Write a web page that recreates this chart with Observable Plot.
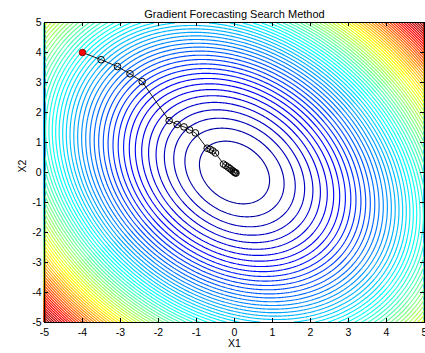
<!DOCTYPE html>
<html>
<head>
<meta charset="utf-8">
<script src="https://cdn.jsdelivr.net/npm/d3@7"></script>
<script src="https://cdn.jsdelivr.net/npm/@observablehq/plot@0.6"></script>
<style>
  html, body { margin: 0; padding: 0; background: #fff; }
</style>
</head>
<body>
<div id="chart"></div>
<script>
// Quadratic objective f(x1, x2) = a*x1^2 + b*x1*x2 + c*x2^2
const coefA = 1.0;
const coefB = 0.45;
const coefC = 0.78;
// contour levels (equally spaced, as in MATLAB contour with N levels)
const levelCount = 69;
// search path
const pathX1 = [-4, -3.51, -3.08, -2.75, -2.43, -1.72, -1.51, -1.33, -1.18, -1.03, -0.72, -0.64, -0.57, -0.50, -0.29, -0.23, -0.17, -0.12, -0.07, -0.03, 0.00, 0.02, 0.04];
const pathX2 = [4, 3.76, 3.53, 3.29, 3.03, 1.73, 1.60, 1.52, 1.42, 1.32, 0.81, 0.77, 0.72, 0.65, 0.28, 0.23, 0.18, 0.13, 0.08, 0.04, 0.01, -0.01, -0.02];
const xTicks = [-5, -4, -3, -2, -1, 0, 1, 2, 3, 4, 5];
const yTicks = [-5, -4, -3, -2, -1, 0, 1, 2, 3, 4, 5];
const titleText = "Gradient Forecasting Search Method";
const xLabel = "X1";
const yLabel = "X2";

const f = (x, y) => coefA * x * x + coefB * x * y + coefC * y * y;
const zMax = f(5, 5);
const step = zMax / (levelCount + 1);
const thresholds = d3.range(1, levelCount + 1).map(k => k * step);
const path = pathX1.map((x, i) => ({x1: x, x2: pathX2[i]}));

const W = 425, H = 353;
const mL = 44, mR = 1, mT = 22, mB = 31;
const innerW = W - mL - mR, innerH = H - mT - mB;
const jetStops = [0, 0.125, 0.375, 0.625, 0.875, 1];
const jetColors = ["#000090", "#0000ff", "#00ffff", "#ffff00", "#ff0000", "#800000"];

const chart = Plot.plot({
  width: W, height: H,
  marginLeft: mL, marginRight: mR, marginTop: mT, marginBottom: mB,
  style: {fontFamily: "'Liberation Sans', Arial, sans-serif", fontSize: "10.5px", background: "#fff"},
  x: {domain: [-5, 5]},
  y: {domain: [-5, 5]},
  color: {type: "linear", domain: jetStops.map(t => t * zMax), range: jetColors, interpolate: "rgb"},
  marks: [
    Plot.contour({x1: -5, y1: -5, x2: 5, y2: 5, stroke: f, thresholds, strokeWidth: 1.15, pixelSize: 1}),
    Plot.line(path, {x: "x1", y: "x2", stroke: "black", strokeWidth: 0.9}),
    Plot.dot(path.slice(1), {x: "x1", y: "x2", r: 3.3, stroke: "black", strokeWidth: 1, fill: "none"}),
    Plot.dot(path.slice(0, 1), {x: "x1", y: "x2", r: 3.3, stroke: "#600", strokeWidth: 0.8, fill: "red"}),
    Plot.frame({stroke: "black"}),
    Plot.tickX(xTicks, {x: d => d, insetTop: innerH - 4, stroke: "black"}),
    Plot.tickX(xTicks, {x: d => d, insetBottom: innerH - 4, stroke: "black"}),
    Plot.tickY(yTicks, {y: d => d, insetRight: innerW - 4, stroke: "black"}),
    Plot.tickY(yTicks, {y: d => d, insetLeft: innerW - 4, stroke: "black"}),
    Plot.axisX({ticks: xTicks, tickSize: 0, tickPadding: 6, label: null, tickFormat: d => String(d)}),
    Plot.axisY({ticks: yTicks, tickSize: 0, tickPadding: 3, label: null, tickFormat: d => String(d)}),
    Plot.text([titleText], {frameAnchor: "top", dy: -12.5, fontSize: 11, fill: "black"}),
    Plot.text([xLabel], {frameAnchor: "bottom", dy: 24, fontSize: 10.5, fill: "black"}),
    Plot.text([yLabel], {frameAnchor: "left", dx: -22, rotate: -90, fontSize: 10.5, fill: "black"})
  ]
});
document.getElementById("chart").appendChild(chart);
</script>
</body>
</html>
